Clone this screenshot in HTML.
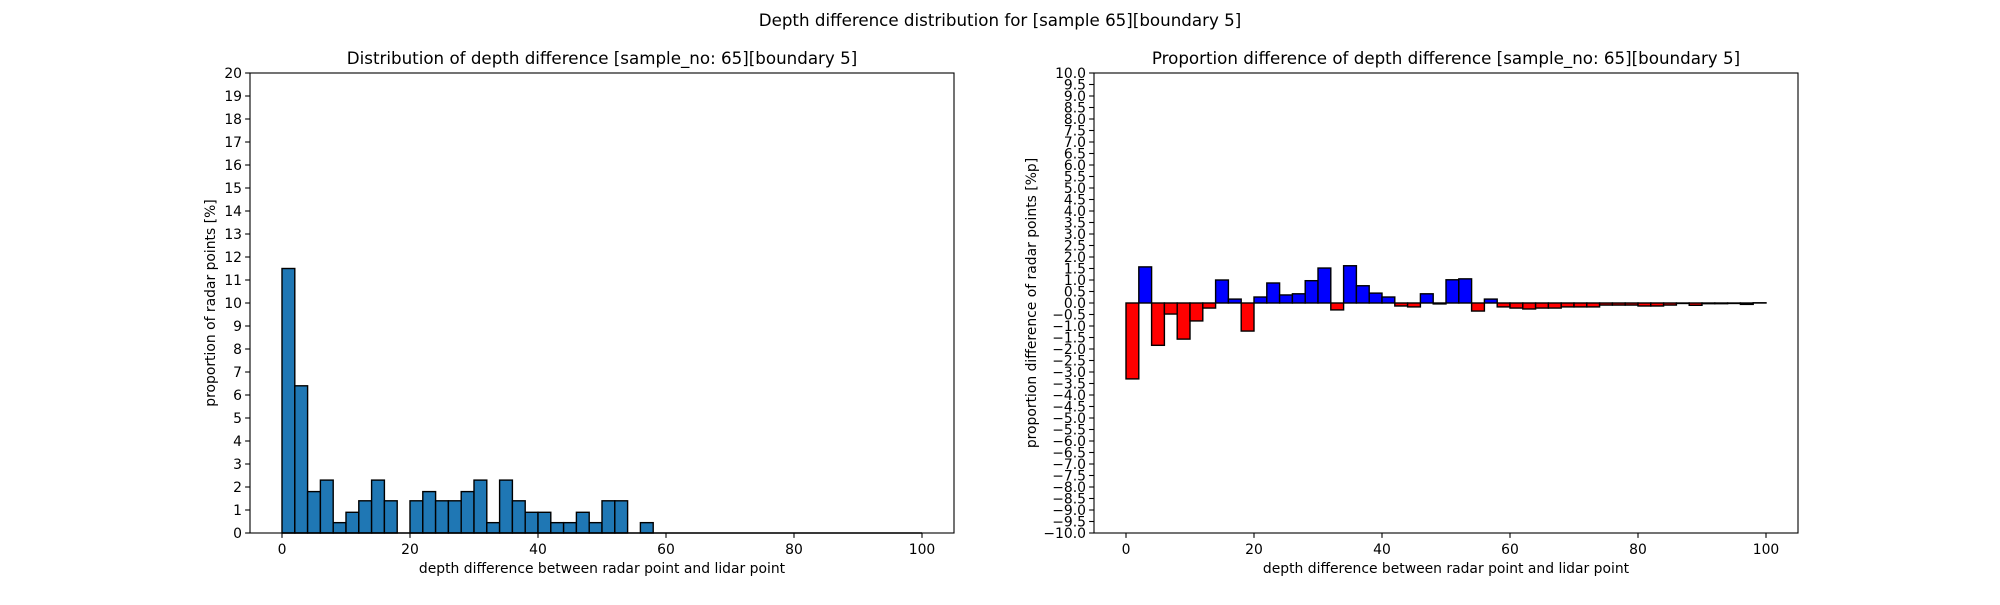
<!DOCTYPE html>
<html><head><meta charset="utf-8"><style>
body{margin:0;background:#fff}
svg text{font-family:"DejaVu Sans","Liberation Sans",sans-serif;fill:#000}
</style></head><body>
<svg id="fig" width="2000" height="600" xmlns="http://www.w3.org/2000/svg">
<rect width="2000" height="600" fill="#fff"/>
<text x="1000" y="26" font-size="16.7" text-anchor="middle">Depth difference distribution for [sample 65][boundary 5]</text>
<g id="left"></g>
<g id="right"></g>
</svg>
<script>
const binStarts = Array.from({length:50},(_,i)=>i*2);
const leftValues = [11.5,6.4,1.8,2.3,0.45,0.9,1.4,2.3,1.4,0,1.4,1.8,1.4,1.4,1.8,2.3,0.45,2.3,1.4,0.9,0.9,0.45,0.45,0.9,0.45,1.4,1.4,0,0.45,0,0,0,0,0,0,0,0,0,0,0,0,0,0,0,0,0,0,0,0,0];
const rightValues = [-3.3,1.57,-1.84,-0.48,-1.57,-0.78,-0.22,1.0,0.17,-1.22,0.26,0.87,0.35,0.4,0.97,1.52,-0.3,1.62,0.75,0.43,0.26,-0.13,-0.17,0.4,-0.04,1.01,1.05,-0.35,0.17,-0.17,-0.22,-0.26,-0.22,-0.22,-0.17,-0.17,-0.17,-0.09,-0.09,-0.09,-0.13,-0.13,-0.09,-0.02,-0.1,-0.03,-0.03,-0.02,-0.06,0.01];
const leftYTicks = Array.from({length:21},(_,i)=>i);
const rightYTicks = Array.from({length:41},(_,i)=>-10+i*0.5);
const xTicks = [0,20,40,60,80,100];
const NS="http://www.w3.org/2000/svg";
function el(tag,attrs,parent,text){const e=document.createElementNS(NS,tag);for(const k in attrs)e.setAttribute(k,attrs[k]);if(text!==undefined)e.textContent=text;parent.appendChild(e);return e;}
function chart(g,x0,x1,y0,y1,ymin,ymax,ticks,fmt,vals,colorFn,title,ylabel,ylx){
  const sx=v=>x0+32+(v)*(x1-x0-64)/100;
  const sy=v=>y1-(v-ymin)*(y1-y0)/(ymax-ymin);
  const t=el('text',{x:(x0+x1)/2,y:y0-9,'font-size':16.7,'text-anchor':'middle'},g,title);
  
  
  binStarts.forEach((b,i)=>{const v=vals[i];if(v===0&&ymin===0)return;
    const ya=sy(Math.max(v,0)),yb=sy(Math.min(v,0));
    const r=el('rect',{x:sx(b),y:ya,width:sx(b+2)-sx(b),height:Math.max(yb-ya,0.01),fill:colorFn(v),stroke:'#000','stroke-width':1.4},g);
    
    
  });
  if(ymin===0){const ln=el('line',{x1:sx(0),x2:sx(100),y1:sy(0),y2:sy(0),stroke:'#000','stroke-width':1.4},g);}
  const ax=el('rect',{x:x0,y:y0,width:x1-x0,height:y1-y0,fill:'none',stroke:'#000','stroke-width':1.1},g);
  
  
  ticks.forEach(v=>{const y=sy(v);el('line',{x1:x0-4.9,x2:x0,y1:y,y2:y,stroke:'#000','stroke-width':1.1},g);
    const tl=el('text',{x:x0-8,y:y+5,'font-size':13.9,'text-anchor':'end'},g,fmt(v));
    
    });
  xTicks.forEach(v=>{const x=sx(v);el('line',{x1:x,x2:x,y1:y1,y2:y1+4.9,stroke:'#000','stroke-width':1.1},g);
    const tl=el('text',{x:x,y:y1+21,'font-size':13.9,'text-anchor':'middle'},g,String(v));
    
    });
  const xl=el('text',{x:(x0+x1)/2,y:y1+40,'font-size':13.9,'text-anchor':'middle'},g,'depth difference between radar point and lidar point');
  
  
  const yc=(y0+y1)/2;
  const yl=el('text',{x:ylx,y:yc,'font-size':13.9,'text-anchor':'middle',transform:`rotate(-90 ${ylx} ${yc})`},g,ylabel);
  
  
}
chart(document.getElementById('left'),250,954,73,533,0,20,leftYTicks,v=>String(v),leftValues,()=> '#1f77b4',
 'Distribution of depth difference [sample_no: 65][boundary 5]','proportion of radar points [%]',215);
chart(document.getElementById('right'),1094,1798,73,533,-10,10,rightYTicks,v=>(v<0?'\u2212':'')+Math.abs(v).toFixed(1),rightValues,v=>v>=0?'#0000ff':'#ff0000',
 'Proportion difference of depth difference [sample_no: 65][boundary 5]','proportion difference of radar points [%p]',1036);
</script>
</body></html>
